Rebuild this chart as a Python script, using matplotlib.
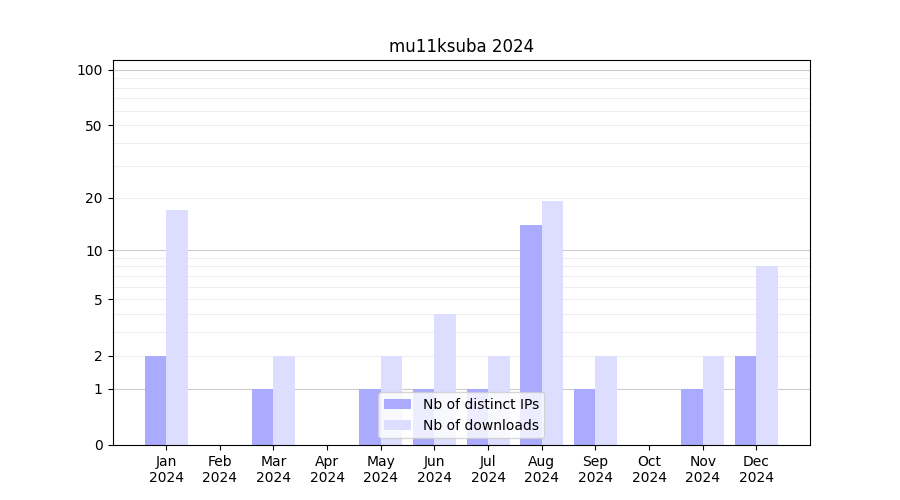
import numpy as np
import matplotlib
matplotlib.use("Agg")
import matplotlib.pyplot as plt

months = ['Jan', 'Feb', 'Mar', 'Apr', 'May', 'Jun', 'Jul', 'Aug', 'Sep', 'Oct', 'Nov', 'Dec']
year = '2024'
distinct_ips = [2, 0, 1, 0, 1, 1, 1, 14, 1, 0, 1, 2]
downloads = [17, 0, 2, 0, 2, 4, 2, 19, 2, 0, 2, 8]
yticks = [0, 1, 2, 5, 10, 20, 50, 100]

fig, ax = plt.subplots(figsize=(9, 5), dpi=100)
ax.set_yscale('function', functions=(lambda v: np.log10(1 + np.clip(v, 0, None)),
                                      lambda v: 10 ** v - 1))

x = np.arange(len(months))
w = 0.4
ax.bar(x - w / 2, distinct_ips, width=w, color='#aaaaff', label='Nb of distinct IPs', zorder=2)
ax.bar(x + w / 2, downloads, width=w, color='#ddddff', label='Nb of downloads', zorder=2)

# grid: decades darker, the rest light
for d in [1, 10]:
    for k in range(2, 10):
        ax.axhline(d * k, color='#eeeeee', lw=0.8, zorder=0)
for d in [1, 10, 100]:
    ax.axhline(d, color='#cccccc', lw=0.8, zorder=1)

ax.set_yticks(yticks)
ax.set_yticklabels([str(t) for t in yticks])
ax.set_ylim(0, 113)
ax.set_xlim(-1, 12)
ax.set_xticks(x)
ax.set_xticklabels([m + '\n' + year for m in months])
ax.set_title('mu11ksuba 2024')
ax.legend(loc='lower center')

plt.savefig('out.png')
